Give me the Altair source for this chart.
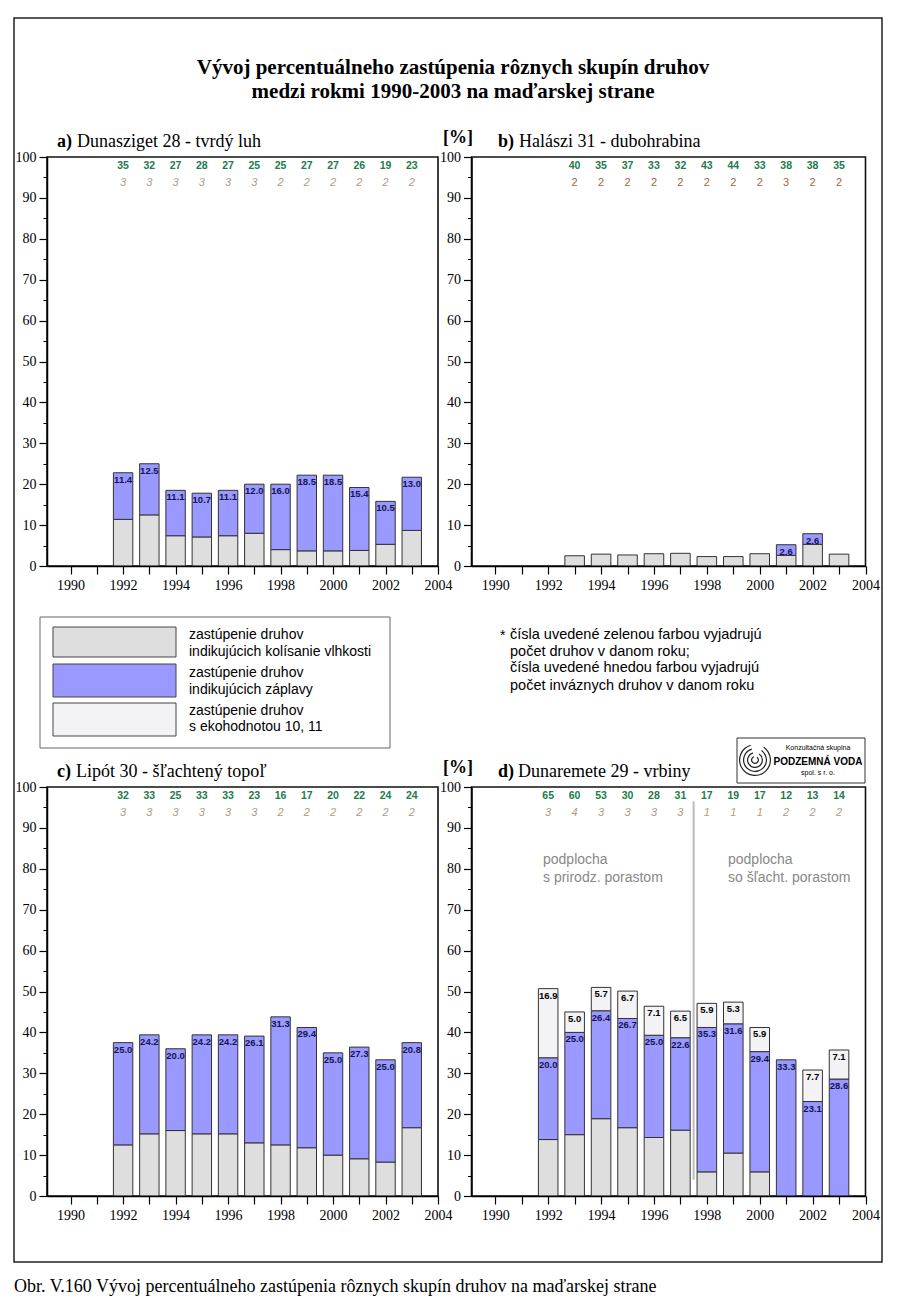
import altair as alt
import pandas as pd

# ---------------- data ----------------
years_a = [1992, 1993, 1994, 1995, 1996, 1997, 1998, 1999, 2000, 2001, 2002, 2003]
kolisanie_a = [11.4, 12.5, 7.4, 7.1, 7.4, 8.0, 4.0, 3.7, 3.7, 3.8, 5.3, 8.7]
zaplavy_a = [11.4, 12.5, 11.1, 10.7, 11.1, 12.0, 16.0, 18.5, 18.5, 15.4, 10.5, 13.0]
eko_a = [0, 0, 0, 0, 0, 0, 0, 0, 0, 0, 0, 0]
druhy_a = [35, 32, 27, 28, 27, 25, 25, 27, 27, 26, 19, 23]
invazne_a = [3, 3, 3, 3, 3, 3, 2, 2, 2, 2, 2, 2]

years_b = [1993, 1994, 1995, 1996, 1997, 1998, 1999, 2000, 2001, 2002, 2003]
kolisanie_b = [2.5, 2.9, 2.7, 3.0, 3.1, 2.3, 2.3, 3.0, 2.6, 5.3, 2.9]
zaplavy_b = [0, 0, 0, 0, 0, 0, 0, 0, 2.6, 2.6, 0]
eko_b = [0, 0, 0, 0, 0, 0, 0, 0, 0, 0, 0]
druhy_b = [40, 35, 37, 33, 32, 43, 44, 33, 38, 38, 35]
invazne_b = [2, 2, 2, 2, 2, 2, 2, 2, 3, 2, 2]

years_c = [1992, 1993, 1994, 1995, 1996, 1997, 1998, 1999, 2000, 2001, 2002, 2003]
kolisanie_c = [12.5, 15.2, 16.0, 15.2, 15.2, 13.0, 12.5, 11.8, 10.0, 9.1, 8.3, 16.7]
zaplavy_c = [25.0, 24.2, 20.0, 24.2, 24.2, 26.1, 31.3, 29.4, 25.0, 27.3, 25.0, 20.8]
eko_c = [0, 0, 0, 0, 0, 0, 0, 0, 0, 0, 0, 0]
druhy_c = [32, 33, 25, 33, 33, 23, 16, 17, 20, 22, 24, 24]
invazne_c = [3, 3, 3, 3, 3, 3, 2, 2, 2, 2, 2, 2]

years_d = [1992, 1993, 1994, 1995, 1996, 1997, 1998, 1999, 2000, 2001, 2002, 2003]
kolisanie_d = [13.8, 15.0, 18.9, 16.7, 14.3, 16.1, 5.9, 10.5, 5.9, 0, 0, 0]
zaplavy_d = [20.0, 25.0, 26.4, 26.7, 25.0, 22.6, 35.3, 31.6, 29.4, 33.3, 23.1, 28.6]
eko_d = [16.9, 5.0, 5.7, 6.7, 7.1, 6.5, 5.9, 5.3, 5.9, 0, 7.7, 7.1]
druhy_d = [65, 60, 53, 30, 28, 31, 17, 19, 17, 12, 13, 14]
invazne_d = [3, 4, 3, 3, 3, 3, 1, 1, 1, 2, 2, 2]

divider_year_d = 1997.5

x_tick_years = list(range(1990, 2005))
y_major = list(range(0, 101, 10))
y_minor = list(range(5, 100, 10))

# ---------------- styling / layout ----------------
OFF = 8
W, H = 884, 1288
C_HATCH = "#dedede"
C_BLUE = "#9999ff"
C_DOT = "#f3f3f6"
C_GREEN = "#237a4b"
SERIF = "Liberation Serif"
SANS = "Liberation Sans"

PX = {"a": (47, 438), "b": (471.5, 865.5), "c": (47, 438), "d": (471.5, 865.5)}
PY = {"a": (566, 157), "b": (566, 157), "c": (1196, 787), "d": (1196, 787)}
XDOM = [1989.1, 2004]

one = pd.DataFrame({"k": [0]})
layers = []


def xs(p):
    return alt.Scale(domain=XDOM, range=[PX[p][0] - OFF, PX[p][1] - OFF], nice=False, zero=False)


def ys(p):
    return alt.Scale(domain=[0, 100], range=[PY[p][0] - OFF, PY[p][1] - OFF], nice=False, zero=False)


def T(s, x, y, size, font=SANS, weight="normal", style="normal", color="black",
      align="left", baseline="alphabetic"):
    return alt.Chart(one).mark_text(
        text=s, fontSize=size, font=font, fontWeight=weight, fontStyle=style,
        color=color, align=align, baseline=baseline
    ).encode(x=alt.value(x - OFF), y=alt.value(y - OFF))


def R(x1, y1, x2, y2, fill="white", stroke="black", sw=1.0, fop=1.0):
    return alt.Chart(one).mark_rect(
        fill=fill, fillOpacity=fop, stroke=stroke, strokeWidth=sw
    ).encode(x=alt.value(x1 - OFF), x2=alt.value(x2 - OFF),
             y=alt.value(y1 - OFF), y2=alt.value(y2 - OFF))


def long_df(years, kol, zap, eko):
    rows = []
    for y, k, z, e in zip(years, kol, zap, eko):
        rows.append(dict(year=y, grp="kol", val=k, ord=0))
        rows.append(dict(year=y, grp="zap", val=z, ord=1))
        rows.append(dict(year=y, grp="eko", val=e, ord=2))
    return pd.DataFrame(rows)


panels = {
    "a": (years_a, kolisanie_a, zaplavy_a, eko_a, druhy_a, invazne_a),
    "b": (years_b, kolisanie_b, zaplavy_b, eko_b, druhy_b, invazne_b),
    "c": (years_c, kolisanie_c, zaplavy_c, eko_c, druhy_c, invazne_c),
    "d": (years_d, kolisanie_d, zaplavy_d, eko_d, druhy_d, invazne_d),
}

# outer frames
layers.append(R(2, 2, 898, 1302, fill="white", stroke="#555555", sw=1, fop=0))
layers.append(R(14, 18, 882, 1262, fill="white", stroke="#222222", sw=1.5, fop=0))

fill_scale = alt.Scale(domain=["kol", "zap", "eko"], range=[C_HATCH, C_BLUE, C_DOT])

for p, (yrs, kol, zap, eko, grn, brn) in panels.items():
    df = long_df(yrs, kol, zap, eko)
    xaxis = alt.Axis(orient="bottom", offset=(PY[p][0] - OFF) - H, values=x_tick_years,
                     format="d", labelExpr="datum.value % 2 == 0 ? datum.label : ''",
                     tickSize=8, tickColor="black", tickWidth=1.2, domainColor="black",
                     domainWidth=1.5, labelFont=SERIF, labelFontSize=14, labelColor="black",
                     labelPadding=4, grid=False, title=None, labelFlush=False,
                     labelOverlap=False, zindex=2)
    yaxis = alt.Axis(orient="left", offset=-(PX[p][0] - OFF), values=y_major,
                     tickSize=8, tickColor="black", tickWidth=1.2, domainColor="black",
                     domainWidth=1.5, labelFont=SERIF, labelFontSize=14, labelColor="black",
                     labelPadding=3, grid=False, title=None, labelFlush=False,
                     labelOverlap=False, zindex=2)
    yminor = alt.Axis(orient="left", offset=-(PX[p][0] - OFF), values=y_minor,
                      tickSize=4, tickColor="black", tickWidth=1, domain=False,
                      labels=False, grid=False, title=None, zindex=2)

    # panel frame (top/right)
    layers.append(R(PX[p][0], PY[p][1], PX[p][1], PY[p][0], fill="white", stroke="#111111",
                    sw=1.6, fop=0))

    stacked = alt.Chart(df).transform_stack(
        stack="val", groupby=["year"], as_=["y0", "y1"], sort=[alt.SortField("ord")]
    )
    bars = stacked.transform_filter("datum.val > 0").transform_calculate(
        x0="datum.year - 0.37", x1="datum.year + 0.37"
    ).mark_bar(stroke="#333333", strokeWidth=1).encode(
        x=alt.X("x0:Q", scale=xs(p), axis=xaxis),
        x2="x1:Q",
        y=alt.Y("y0:Q", scale=ys(p), axis=yaxis),
        y2="y1:Q",
        fill=alt.Fill("grp:N", scale=fill_scale, legend=None),
    )
    layers.append(bars)

    labels = stacked.transform_filter("datum.val > 0 && datum.grp != 'kol'").mark_text(
        font=SANS, fontSize=9.5, fontWeight="bold", baseline="top", dy=2
    ).encode(
        x=alt.X("year:Q", scale=xs(p), axis=None),
        y=alt.Y("y1:Q", scale=ys(p), axis=None),
        text=alt.Text("val:Q", format=".1f"),
        color=alt.condition("datum.grp == 'eko'", alt.value("black"), alt.value("#141450")),
    )
    layers.append(labels)

    cnt = pd.DataFrame({"year": yrs, "druhy": grn, "invazne": brn})
    green = alt.Chart(cnt).transform_calculate(ty="97.8").mark_text(
        font=SANS, fontSize=10.5, fontWeight="bold", color=C_GREEN, baseline="middle"
    ).encode(
        x=alt.X("year:Q", scale=xs(p), axis=None),
        y=alt.Y("ty:Q", scale=ys(p), axis=yminor),
        text="druhy:Q",
    )
    layers.append(green)
    if p == "b":
        bstyle = dict(fontStyle="normal", color="#9a6a3a", fontSize=11)
    else:
        bstyle = dict(fontStyle="italic", color="#b09a88", fontSize=11)
    brown = alt.Chart(cnt).transform_calculate(ty="93.7").mark_text(
        font=SANS, baseline="middle", **bstyle
    ).encode(
        x=alt.X("year:Q", scale=xs(p), axis=None),
        y=alt.Y("ty:Q", scale=ys(p), axis=None),
        text="invazne:Q",
    )
    layers.append(brown)

# divider in panel d
div = pd.DataFrame({"x": [divider_year_d], "y0": [4.0], "y1": [96.5]})
layers.append(alt.Chart(div).mark_rule(color="#bbbbbb", strokeWidth=2).encode(
    x=alt.X("x:Q", scale=xs("d"), axis=None),
    y=alt.Y("y0:Q", scale=ys("d"), axis=None),
    y2="y1:Q",
))

# titles
layers.append(T("Vývoj percentuálneho zastúpenia rôznych skupín druhov", 453, 73.5, 21,
                font=SERIF, weight="bold", align="center"))
layers.append(T("medzi rokmi 1990-2003 na maďarskej strane", 453, 98, 21,
                font=SERIF, weight="bold", align="center"))

ptitles = [("a)", "Dunasziget 28 - tvrdý luh", 57, 77, 146.5),
           ("b)", "Halászi 31 - dubohrabina", 498, 519, 146.5),
           ("c)", "Lipót 30 - šľachtený topoľ", 57, 76, 777),
           ("d)", "Dunaremete 29 - vrbiny", 498, 518, 777)]
for lab, rest, x1, x2, yb in ptitles:
    layers.append(T(lab, x1, yb, 18, font=SERIF, weight="bold"))
    layers.append(T(rest, x2, yb, 18, font=SERIF))
layers.append(T("[%]", 443, 143, 18, font=SERIF, weight="bold"))
layers.append(T("[%]", 443, 773, 18, font=SERIF, weight="bold"))

# sub-area notes in panel d
layers.append(T("podplocha", 543, 860, 14, color="#888888", baseline="middle"))
layers.append(T("s prirodz. porastom", 543, 877.5, 14, color="#888888", baseline="middle"))
layers.append(T("podplocha", 728, 860, 14, color="#888888", baseline="middle"))
layers.append(T("so šľacht. porastom", 728, 877.5, 14, color="#888888", baseline="middle"))

# legend box
layers.append(R(40, 617, 390, 748, fill="white", stroke="#666666", sw=1))
layers.append(R(53, 627, 176, 657, fill=C_HATCH, stroke="#444444", sw=1))
layers.append(R(53, 664, 176, 697, fill=C_BLUE, stroke="#444444", sw=1))
layers.append(R(53, 703, 176, 736, fill=C_DOT, stroke="#444444", sw=1))
leg_lines = [("zastúpenie druhov", 635), ("indikujúcich kolísanie vlhkosti", 651.7),
             ("zastúpenie druhov", 673.3), ("indikujúcich záplavy", 690),
             ("zastúpenie druhov", 710.7), ("s ekohodnotou 10, 11", 727.3)]
for s, y in leg_lines:
    layers.append(T(s, 189, y, 14, baseline="middle"))

# note
layers.append(T("*", 500, 636, 14, baseline="middle"))
note_lines = [("čísla uvedené zelenou farbou vyjadrujú", 635),
              ("počet druhov v danom roku;", 651.7),
              ("čísla uvedené hnedou farbou vyjadrujú", 668.3),
              ("počet inváznych druhov v danom roku", 685.7)]
for s, y in note_lines:
    layers.append(T(s, 510, y, 14.5, baseline="middle"))

# logo
layers.append(R(737, 738, 865, 783, fill="white", stroke="#333333", sw=1))
for r in [4, 8, 12, 16]:
    layers.append(alt.Chart(one).mark_arc(
        radius=r, radius2=r - 1.2, theta=0.6, theta2=6.0, color="#222222"
    ).encode(x=alt.value(755 - OFF), y=alt.value(760 - OFF)))
layers.append(T("Konzultačná skupina", 818, 748, 7, align="center", baseline="middle"))
layers.append(T("PODZEMNÁ VODA", 818, 762, 10, weight="bold", align="center",
                baseline="middle"))
layers.append(T("spol. s r. o.", 818, 773, 7, align="center", baseline="middle"))

# caption
layers.append(T("Obr. V.160 Vývoj percentuálneho zastúpenia rôznych skupín druhov na maďarskej strane",
                14, 1292, 18, font=SERIF))

chart = alt.layer(*layers).resolve_scale(
    x="independent", y="independent"
).properties(
    width=W, height=H, autosize=alt.AutoSizeParams(type="none"), padding=0,
    background="white"
).configure_view(stroke=None)

chart.save("out.html", embed_options={"renderer": "svg", "actions": False})
